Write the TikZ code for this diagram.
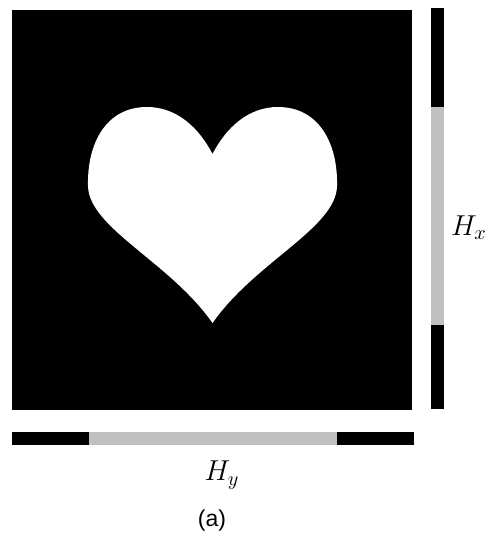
\documentclass[tikz,border=0pt]{standalone}
\usepackage{fontspec}
\setsansfont{Liberation Sans}
\usepackage{tikz}
\usetikzlibrary{positioning}
\definecolor{barGray}{RGB}{192,192,192}

\begin{document}
\begin{tikzpicture}[x=0.5pt,y=-0.5pt,
img/.style={fill=black},
bar/.style={fill=black},
part/.style={fill=barGray},
lbl/.style={inner sep=0pt,font=\Large}
]
\useasboundingbox (0,0) rectangle (491,539);
% image with heart
\fill[img] (12,10) rectangle (412,410);
\fill[white] (212.5,154) .. controls (226,128) and (248,107) .. (278,107)
  .. controls (318,107) and (338,142) .. (337,186)
  .. controls (336,228) and (255,262) .. (212.5,323)
  .. controls (170,262) and (89,228) .. (88,186)
  .. controls (87,142) and (107,107) .. (147,107)
  .. controls (177,107) and (199,128) .. cycle;
% projections
\fill[bar] (431,8) rectangle (444,409);
\fill[part] (431,107) rectangle (444,325);
\fill[bar] (12,432) rectangle (414,445);
\fill[part] (89,432) rectangle (337,445);
\node[lbl] (hx) at (469,228) {$H_x$};
\node[lbl] (hy) at (222,475) {$H_y$};
\node[inner sep=0pt,font=\sffamily\fontsize{11.5}{13}\selectfont] (cap) at (212,521) {(a)};
\end{tikzpicture}
\end{document}
